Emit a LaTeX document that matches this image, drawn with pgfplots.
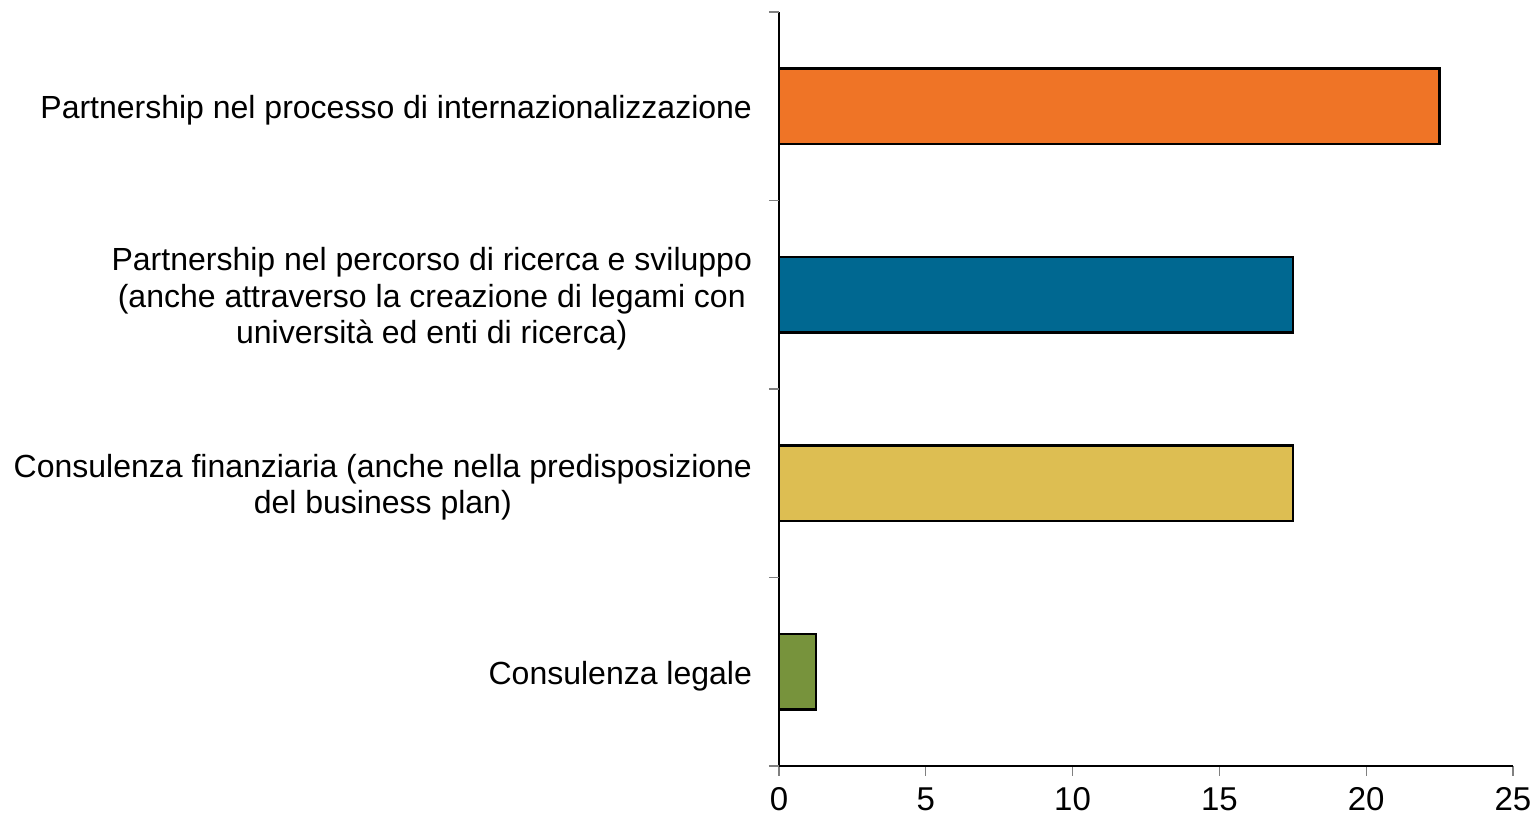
\documentclass[border=0pt]{standalone}
\usepackage{pgfplots}
\pgfplotsset{compat=1.18}
\usepackage{fontspec}
\setmainfont{Liberation Sans}
\definecolor{cOrange}{RGB}{239,116,38}
\definecolor{cBlue}{RGB}{0,104,145}
\definecolor{cYellow}{RGB}{221,190,82}
\definecolor{cGreen}{RGB}{119,147,60}
\begin{document}
\begin{tikzpicture}
\path[use as bounding box] (0,0) rectangle (768pt,409pt);
\begin{axis}[
  at={(389.5pt,26pt)}, anchor=south west,
  scale only axis, width=367pt, height=377pt,
  xmin=0, xmax=25, ymin=-0.5, ymax=3.5,
  axis lines=left, axis line style={-, black, line width=0.6pt},
  xbar, bar width=0.4, bar shift=0pt,
  xtick={0,5,10,15,20,25},
  ytick={0,1,2,3},
  yticklabels={
    Consulenza legale,
    {Consulenza finanziaria (anche nella predisposizione\\del business plan)},
    {Partnership nel percorso di ricerca e sviluppo\\(anche attraverso la creazione di legami con\\università ed enti di ricerca)},
    Partnership nel processo di internazionalizzazione},
  y tick style={draw=none},
  x tick style={gray, line width=0.6pt},
  tick align=outside, major tick length=5pt,
  extra y ticks={-0.5,0.5,1.5,2.5,3.5},
  extra y tick labels={},
  extra y tick style={y tick style={draw=gray, line width=0.6pt}, major tick length=5pt},
  yticklabel style={align=center, font=\fontsize{16}{18.3}\selectfont, xshift=-5pt, yshift=-2pt},
  xticklabel style={font=\fontsize{16.5}{18.3}\selectfont, anchor=north, text height=12pt, text depth=0pt, inner sep=2pt, yshift=-3pt},
  /pgf/number format/assume math mode=true,
  clip=false,
]
\addplot[fill=cGreen, draw=black, line width=1.2pt] coordinates {(1.25,0)};
\addplot[fill=cYellow, draw=black, line width=1.2pt] coordinates {(17.5,1)};
\addplot[fill=cBlue, draw=black, line width=1.2pt] coordinates {(17.5,2)};
\addplot[fill=cOrange, draw=black, line width=1.2pt] coordinates {(22.5,3)};
\end{axis}
\end{tikzpicture}
\end{document}
